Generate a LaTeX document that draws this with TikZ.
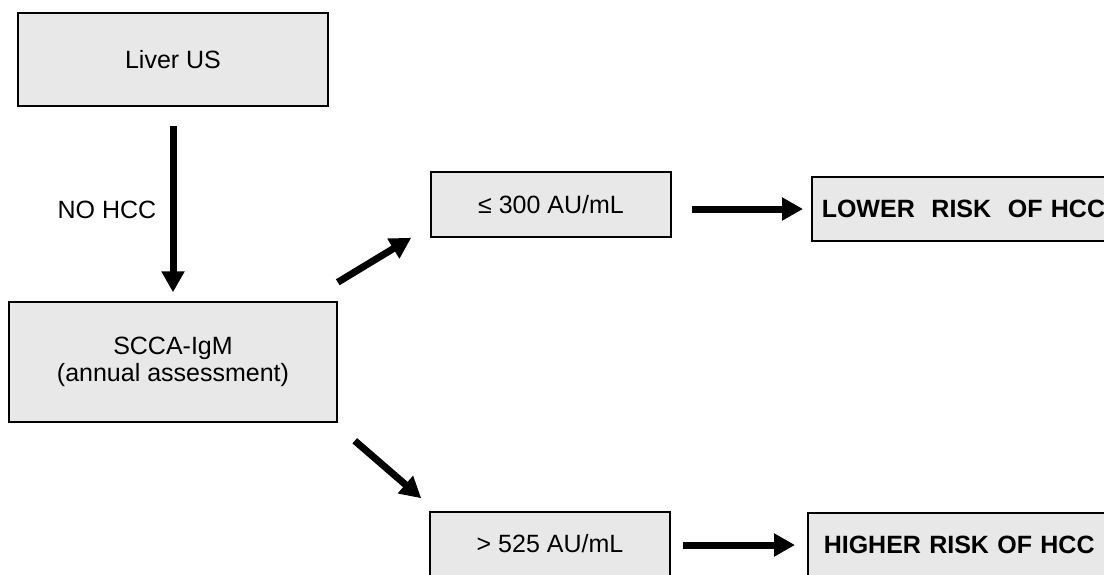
\documentclass[tikz,border=0pt]{standalone}
\usepackage{fontspec}
\setmainfont{Liberation Sans}
\usetikzlibrary{arrows.meta}
\definecolor{boxgray}{RGB}{232,232,232}

\begin{document}
\begin{tikzpicture}[x=1pt, y=-1pt,
	box/.style = {draw, fill=boxgray, line width=1.5pt, inner sep=0pt, font=\fontsize{25}{27}\selectfont},
	arrow/.style = {line width=7pt, -{Triangle[length=21pt,width=22pt]}}]
	\useasboundingbox (0,0) rectangle (1104,574);
	\clip (0,0) rectangle (1104,574);
	\node[box, minimum width=310pt, minimum height=93pt] (liver) at (173,59.5) {Liver US};
	\node[box, minimum width=328pt, minimum height=120pt, align=center] (scca) at (173,362) {SCCA-IgM\\ (annual assessment)};
	\node[font=\fontsize{25}{27}\selectfont] (nohcc) at (107,210) {NO HCC};
	\node[box, minimum width=240pt, minimum height=65pt] (low) at (551,204.5) {≤ 300 AU/mL};
	\node[box, minimum width=240pt, minimum height=64pt] (high) at (550,544) {> 525 AU/mL};
	\node[box, anchor=west, text width=300pt, inner xsep=10pt, minimum height=64pt, align=left, font=\fontsize{25}{27}\selectfont\bfseries] (lowrisk) at (811,209) {LOWER\ \ RISK\ \ OF HCC};
	\node[box, anchor=west, text width=290pt, inner xsep=16pt, minimum height=64pt, align=left, font=\fontsize{25}{27}\selectfont\bfseries] (highrisk) at (807,545) {HIGHER RISK OF HCC};
	\draw[arrow, shorten <=19pt, shorten >=9pt] (liver) -- (scca);
	\draw[arrow] ([yshift=19pt]scca.north east) -- ([xshift=-19pt]low.south west);
	\draw[arrow] ([xshift=17pt,yshift=-18pt]scca.south east) -- ([xshift=-8pt,yshift=13pt]high.north west);
	\draw[arrow, shorten <=20pt, shorten >=8pt] (low.east |- lowrisk) -- (lowrisk);
	\draw[arrow, shorten <=12pt, shorten >=12pt] (high.east |- highrisk) -- (highrisk);
\end{tikzpicture}
\end{document}
